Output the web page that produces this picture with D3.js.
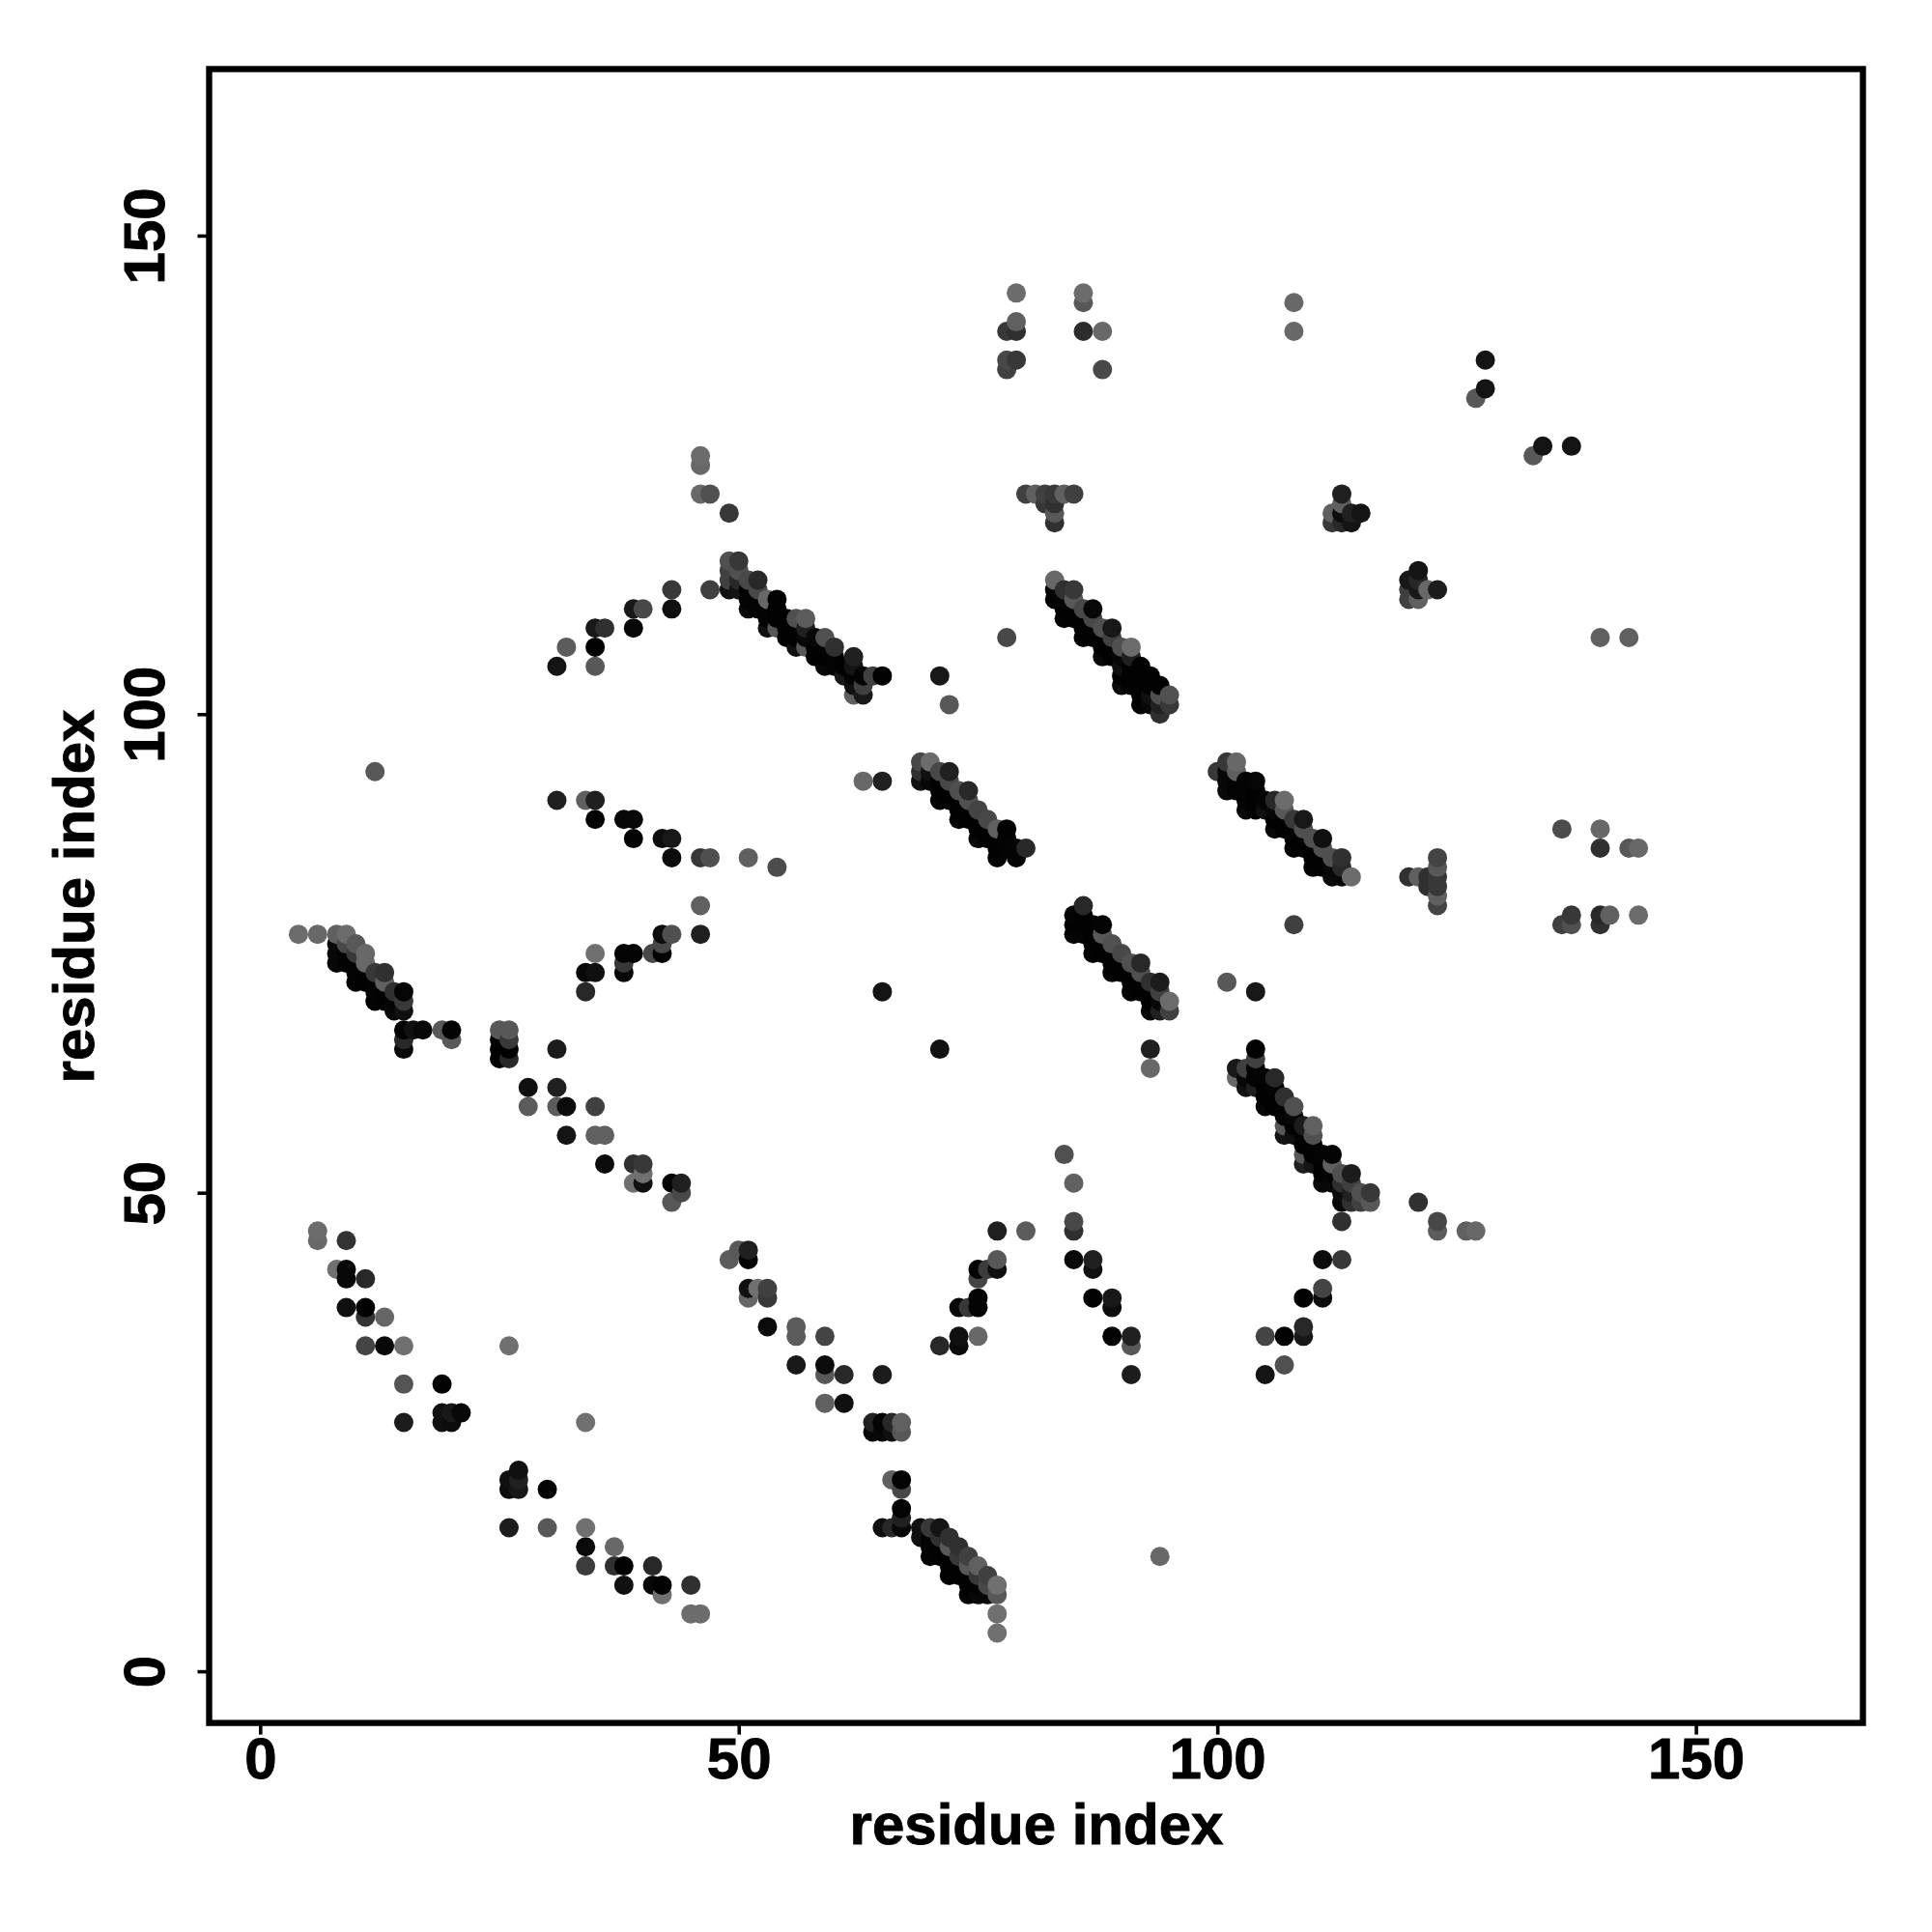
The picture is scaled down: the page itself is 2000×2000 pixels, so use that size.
<!DOCTYPE html>
<html>
<head>
<meta charset="utf-8">
<script src="https://cdn.jsdelivr.net/npm/d3@7"></script>
<style>html,body{margin:0;padding:0;background:#fff}svg{display:block}</style>
</head>
<body>
<svg id="chart" width="2000" height="2000"></svg>
<script>
// each contact: [residue x, residue y, gray level]
const lowLeftContacts = [[6,46,0x6c],[6,45,0x68],[9,45,0x33],[8,42,0x70],[9,42,8],[9,41,8],[11,41,0x28],[9,38,0x10],[11,38,2],[11,37,0x33],[13,37,0x66],[11,34,0x44],[13,34,8],[15,34,0x70],[26,34,0x70],[15,30,0x55],[19,30,2],[15,26,0x1c],[34,26,0x70],[19,27,0x10],[19,26,0x10],[20,27,0x18],[20,26,0x0c],[21,27,8],[27,21,0x10],[26,20,0x10],[27,20,0x20],[26,19,0x0c],[27,19,0x18],[30,19,4],[26,15,0x1c],[30,15,0x58],[34,15,0x70],[34,13,0x0a],[37,13,0x68],[34,11,0x3c],[37,11,0x30],[38,11,2],[41,11,0x28],[38,9,0x10],[41,9,8],[42,9,2],[45,9,0x30],[42,8,0x70],[45,6,0x6c],[46,6,0x6c],[94,12,0x68]];
const midDiagonalContacts = [[15,67,2],[16,67,0x10],[17,67,8],[15,66,0x28],[15,65,0x0a],[19,67,0x58],[20,67,4],[20,66,0x58],[25,67,0x58],[26,67,0x58],[25,66,4],[26,66,0x38],[25,65,2],[26,65,2],[25,64,4],[26,64,0x28],[31,65,0x1c],[28,61,0x10],[31,61,0x20],[28,59,0x5c],[31,59,0x5c],[32,59,0x0c],[35,59,0x40],[32,56,0x14],[35,56,0x60],[36,56,0x60],[36,53,0x0c],[39,53,0x30],[40,53,0x38],[40,52,0x70],[39,51,0x70],[40,51,0x10],[43,51,4],[44,51,0x20],[44,50,0x48],[43,49,0x58]];
const centerContacts = [[49,43,0x5c],[50,44,0x58],[51,44,0x20],[51,43,2],[51,40,0x10],[51,39,0x66],[52,40,0x70],[53,40,0x40],[53,39,0x38],[53,36,0x0c],[56,36,0x5c],[56,35,0x5c],[59,35,0x44],[56,32,0x18],[59,32,0x0c],[59,31,0x58],[61,31,0x28],[65,31,0x1c],[59,28,0x60],[61,28,0x10],[64,26,0x22],[65,26,4],[66,26,0x28],[67,26,0x60],[64,25,8],[65,25,8],[66,25,0x10],[67,25,0x58],[66,20,0x60],[67,20,4],[67,19,0x48],[67,17,4],[67,16,0x20],[67,15,8],[65,15,0x10],[66,15,0x28]];
const bandLowCenter = [[69,15,0x10],[69,14,0x10],[70,15,0x38],[70,14,4],[70,13,4],[70,12,4],[71,15,0x14],[71,14,0x30],[71,13,2],[71,12,2],[72,14,0x30],[72,13,0x58],[72,12,2],[72,11,2],[72,10,2],[73,13,0x30],[73,12,0x38],[73,11,2],[73,10,2],[74,12,0x40],[74,11,0x58],[74,10,2],[74,9,2],[74,8,4],[75,11,0x60],[75,10,0x38],[75,9,2],[75,8,8],[76,10,0x40],[76,9,0x48],[76,8,8],[77,9,0x70],[77,8,0x58],[77,6,0x70],[77,4,0x70]];
const bandLeft = [[4,77,0x6c],[6,77,0x68],[8,77,0x60],[8,76,8],[8,75,8],[8,74,8],[9,77,0x6c],[9,76,0x48],[9,75,4],[9,74,4],[10,76,0x58],[10,75,0x38],[10,74,4],[10,73,4],[10,72,4],[11,75,0x68],[11,74,0x68],[11,73,2],[11,72,2],[12,73,0x38],[12,72,4],[12,71,4],[12,70,4],[13,73,0x30],[13,72,0x60],[13,71,2],[13,70,2],[14,71,0x30],[14,70,4],[14,69,8],[15,71,5],[15,70,0x38],[15,69,0x10]];
const risingLeftContacts = [[46,80,0x60],[46,77,0x20],[35,75,0x70],[34,73,8],[35,73,0x10],[34,71,0x28],[38,75,4],[39,75,4],[38,74,0x38],[38,73,8],[41,75,0x48],[42,75,2],[42,76,0x48],[42,77,0x0c],[43,77,0x50]];
const fallingLeftContacts = [[12,94,0x58],[31,91,0x20],[34,91,0x60],[35,91,0x20],[35,89,4],[38,89,8],[39,89,8],[39,87,4],[42,87,0x0c],[43,87,0x18],[43,85,0x0c],[46,85,0x38],[47,85,0x50],[51,85,0x60],[54,84,0x4c],[63,93,0x68],[65,93,0x20]];
const upperLeftContacts = [[46,127,0x6c],[46,126,0x68],[46,123,0x68],[47,123,0x50],[49,121,0x38],[43,113,0x38],[47,113,0x40],[39,111,0x18],[40,111,0x48],[43,111,0x10],[35,109,0x18],[36,109,0x30],[39,109,8],[32,107,0x5c],[35,107,2],[31,105,0x14],[35,105,0x58]];
const bandUpperCenter = [[49,116,0x50],[49,115,0x40],[49,114,0x40],[49,113,0x10],[50,116,0x38],[50,115,0x50],[50,114,0x28],[50,113,0x14],[51,114,0x48],[51,113,4],[51,112,4],[51,111,8],[52,114,0x28],[52,113,0x48],[52,112,4],[52,111,4],[53,112,0x68],[53,111,5],[53,110,5],[53,109,0x10],[54,112,2],[54,111,2],[54,110,2],[54,109,0x58],[55,110,2],[55,109,2],[55,108,2],[56,110,0x50],[56,109,2],[56,108,2],[56,107,0x10],[57,110,0x5c],[57,109,0x20],[57,108,8],[57,107,0x58],[58,108,8],[58,107,2],[58,106,2],[59,108,0x50],[59,107,4],[59,106,2],[59,105,8],[60,107,0x30],[60,106,4],[60,105,4],[61,105,2],[61,104,0x18],[62,106,0x20],[62,105,0x14],[62,104,4],[62,103,0x10],[62,102,0x60],[63,104,4],[63,103,0x40],[63,102,0x18],[64,104,0x40],[65,104,2]];
const isolatedContacts = [[71,104,0x18],[72,101,0x58],[78,108,0x48],[65,71,0x14],[71,65,0x12],[93,65,0x20],[93,63,0x68],[84,54,0x50],[85,51,0x60],[101,72,0x58],[104,71,0x18],[108,78,0x40],[140,108,0x60],[143,108,0x60],[128,137,0x14],[128,134,0x14],[127,133,0x58],[133,127,0x58],[134,128,0x14],[137,128,0x14]];
const bandMidCenter = [[69,95,0x48],[69,94,0x30],[69,93,0x10],[70,95,0x6c],[70,94,0x10],[70,93,8],[71,94,0x48],[71,93,2],[71,92,2],[71,91,4],[72,94,0x20],[72,93,0x48],[72,92,2],[72,91,2],[73,92,0x50],[73,91,2],[73,90,2],[73,89,4],[74,92,0x28],[74,91,0x50],[74,90,2],[74,89,2],[75,90,0x44],[75,89,2],[75,88,2],[75,87,8],[76,89,0x48],[76,88,2],[76,87,2],[77,88,0x60],[77,87,2],[77,86,2],[77,85,4],[78,88,2],[78,87,4],[78,86,4],[79,86,4],[79,85,4],[80,86,0x28]];
const bandCenterRight = [[85,79,4],[85,78,2],[85,77,5],[86,80,0x28],[86,79,2],[86,78,2],[86,77,5],[87,78,2],[87,77,2],[87,76,2],[87,75,4],[88,78,4],[88,77,0x58],[88,76,2],[88,75,2],[89,76,0x50],[89,75,2],[89,74,2],[89,73,4],[90,75,0x48],[90,74,2],[90,73,2],[91,74,0x50],[91,73,2],[91,72,2],[91,71,4],[92,74,0x28],[92,73,0x50],[92,72,2],[92,71,2],[93,72,0x30],[93,71,2],[93,70,2],[93,69,8],[94,72,0x1c],[94,71,0x40],[94,70,8],[94,69,0x20],[95,70,0x6c],[95,69,0x40]];
const bandUpperRight = [[100,94,0x38],[101,95,0x38],[101,94,8],[101,93,8],[101,92,0x0a],[102,95,0x68],[102,94,0x60],[102,93,4],[102,92,4],[103,93,4],[103,92,4],[103,91,4],[103,90,8],[104,93,5],[104,92,2],[104,91,2],[104,90,2],[105,91,4],[105,90,0x10],[106,91,0x28],[106,90,8],[106,89,2],[106,88,0x0a],[107,91,0x6c],[107,90,0x58],[107,89,2],[107,88,2],[108,89,0x38],[108,88,4],[108,87,2],[108,86,4],[109,89,0x18],[109,88,0x50],[109,87,2],[109,86,2],[110,87,0x50],[110,86,2],[110,85,2],[110,84,4],[111,87,0x10],[111,86,0x50],[111,85,2],[111,84,2],[112,85,0x50],[112,84,8],[112,83,0x0a],[113,85,0x30],[113,84,0x28],[113,83,8],[114,83,0x6c]];
const farRightContacts = [[136,88,0x4c],[140,88,0x68],[140,86,0x30],[143,86,0x58],[144,86,0x68],[137,79,0x38],[136,78,0x40],[137,78,0x50],[140,79,0x28],[141,79,0x60],[140,78,0x30],[144,79,0x6c],[120,83,0x30],[121,83,0x60],[122,83,0x30],[122,82,0x30],[123,85,0x44],[123,84,0x58],[123,83,0x38],[123,82,0x38],[123,81,0x60],[123,80,0x44]];
const bandLowRight = [[102,63,0x18],[102,62,0x68],[103,63,0x40],[103,62,8],[103,61,0x10],[104,65,2],[104,64,0x40],[104,63,4],[104,62,4],[104,61,0x20],[105,62,4],[105,61,2],[105,60,2],[105,59,8],[106,62,0x28],[106,61,4],[106,60,2],[106,59,2],[107,60,0x30],[107,59,4],[107,58,4],[107,57,0x58],[107,56,0x14],[108,59,0x50],[108,58,8],[108,57,2],[108,56,0x10],[109,57,0x1c],[109,56,4],[109,55,2],[109,54,0x58],[109,53,0x20],[110,57,0x60],[110,56,0x50],[110,55,2],[110,54,2],[110,53,0x14],[111,54,4],[111,53,2],[111,52,2],[111,51,8],[112,54,4],[112,53,0x60],[112,52,4],[112,51,8],[113,52,0x50],[113,51,0x30],[113,50,0x0c],[113,49,8],[114,52,0x1c],[114,51,0x40],[114,50,0x20],[114,49,0x30],[115,50,0x50],[115,49,0x40],[116,50,0x38],[116,49,0x58]];
const lowRightContacts = [[113,47,0x30],[121,49,0x30],[123,47,0x48],[123,46,0x5c],[126,46,0x60],[127,46,0x68],[111,43,0x0c],[113,43,0x38],[111,40,0x44],[111,39,0x0c],[109,39,2],[109,36,0x28],[109,35,0x18],[107,35,2],[105,35,0x44],[107,32,0x50],[105,31,0x14]];
const peakContacts = [[77,46,0x20],[80,46,0x5c],[85,47,0x48],[85,46,0x30],[77,43,0x58],[77,42,0x10],[75,42,4],[76,42,0x3c],[75,41,0x44],[75,39,4],[75,38,4],[73,38,8],[74,38,0x38],[73,35,0x10],[73,34,0x0a],[75,35,0x68],[71,34,0x28],[85,43,0x0a],[87,43,0x20],[87,42,0x10],[87,39,2],[89,39,0x18],[89,38,0x0c],[89,35,4],[91,35,0x20],[91,34,0x58],[91,31,0x1c]];
const topContacts = [[79,144,0x6c],[79,141,0x60],[78,140,0x38],[79,140,0x30],[78,137,0x48],[79,137,0x38],[78,136,0x40],[86,144,0x6c],[86,143,0x58],[86,140,0x2c],[88,140,0x68],[88,136,0x48],[108,143,0x68],[108,140,0x68],[80,123,0x40],[81,123,0x60],[82,123,0x40],[83,123,0x38],[84,123,0x60],[85,123,0x40],[82,122,0x38],[83,122,0x30],[83,121,0x58],[83,120,0x30],[113,123,0x20],[113,122,0x60],[112,121,0x60],[112,120,0x38],[113,120,0x28],[113,121,0x0c],[114,121,0x20],[114,120,0x14],[115,121,0x14],[121,115,0x14],[120,114,0x18],[121,114,0x28],[120,113,0x40],[121,113,0x18],[120,112,0x40],[121,112,0x60],[122,113,0x68],[123,113,0x1c]];
const bandTopRight = [[83,114,0x68],[83,113,4],[83,112,4],[84,113,0x30],[84,112,4],[84,111,2],[84,110,4],[85,113,0x38],[85,112,0x58],[85,111,2],[85,110,2],[86,111,0x48],[86,110,2],[86,109,2],[86,108,4],[87,111,8],[87,110,0x48],[87,109,2],[87,108,2],[88,109,0x50],[88,108,2],[88,107,2],[88,106,0x0a],[89,109,0x18],[89,108,0x40],[89,107,2],[89,106,2],[90,107,0x50],[90,106,8],[90,105,0x10],[90,104,2],[90,103,0x0a],[91,107,0x6c],[91,106,0x20],[91,105,2],[91,104,2],[91,103,2],[92,105,2],[92,104,2],[92,103,2],[92,102,2],[92,101,4],[93,104,2],[93,103,2],[93,102,0x10],[93,101,8],[94,103,2],[94,102,0x50],[94,101,0x20],[94,100,0x30],[95,102,0x50],[95,101,0x38]];

const xTickValues = [0, 50, 100, 150];
const yTickValues = [0, 50, 100, 150];
const xTitle = "residue index";
const yTitle = "residue index";

const contacts = [].concat(lowLeftContacts, midDiagonalContacts, centerContacts, bandLowCenter, bandLeft, risingLeftContacts, fallingLeftContacts, upperLeftContacts, bandUpperCenter, isolatedContacts, bandMidCenter, bandCenterRight, bandUpperRight, farRightContacts, bandLowRight, lowRightContacts, peakContacts, topContacts, bandTopRight)
  .sort((a, b) => d3.ascending(a[0], b[0]) || d3.ascending(a[1], b[1]));

const frame = {left: 216.5, right: 1928.5, top: 71.5, bottom: 1783.6};
const x = d3.scaleLinear().domain([-5.33, 167.45]).range([frame.left, frame.right]);
const y = d3.scaleLinear().domain([-5.4, 167.4]).range([frame.bottom, frame.top]);

const svg = d3.select("#chart");
const font = "'Liberation Sans', Arial, sans-serif";

svg.append("g").selectAll("circle").data(contacts).join("circle")
  .attr("cx", d => x(d[0])).attr("cy", d => y(d[1])).attr("r", 10)
  .attr("fill", d => d3.rgb(d[2], d[2], d[2]).formatHex());

svg.append("rect")
  .attr("x", frame.left).attr("y", frame.top)
  .attr("width", frame.right - frame.left).attr("height", frame.bottom - frame.top)
  .attr("fill", "none").attr("stroke", "#000").attr("stroke-width", 6.4);

const xAxis = svg.append("g").attr("transform", `translate(0,${frame.bottom})`)
  .call(d3.axisBottom(x).tickValues(xTickValues).tickSize(12).tickPadding(14).tickFormat(d3.format("d")));
const yAxis = svg.append("g").attr("transform", `translate(${frame.left},0)`)
  .call(d3.axisLeft(y).tickValues(yTickValues).tickSize(12).tickFormat(d3.format("d")));
[xAxis, yAxis].forEach(a => {
  a.select(".domain").remove();
  a.selectAll("line").attr("stroke", "#000").attr("stroke-width", 3.6);
  a.selectAll("text").attr("fill", "#000").attr("stroke", "#000").attr("stroke-width", 0.9)
    .attr("font-family", font).attr("font-weight", "bold").attr("font-size", 60);
});
xAxis.selectAll("text").attr("dy", null)
  .attr("y", 1841 - frame.bottom);
yAxis.selectAll("text").attr("x", null).attr("dy", null)
  .attr("text-anchor", "middle")
  .attr("transform", `translate(${170 - frame.left},0) rotate(-90)`);

svg.append("text").text(xTitle)
  .attr("x", 1073).attr("y", 1909).attr("text-anchor", "middle")
  .attr("font-family", font).attr("font-weight", "bold").attr("font-size", 60).attr("fill", "#000")
  .attr("stroke", "#000").attr("stroke-width", 0.9);
svg.append("text").text(yTitle)
  .attr("transform", "translate(97,928) rotate(-90)").attr("text-anchor", "middle")
  .attr("font-family", font).attr("font-weight", "bold").attr("font-size", 60).attr("fill", "#000")
  .attr("stroke", "#000").attr("stroke-width", 0.9);
</script>
</body>
</html>
